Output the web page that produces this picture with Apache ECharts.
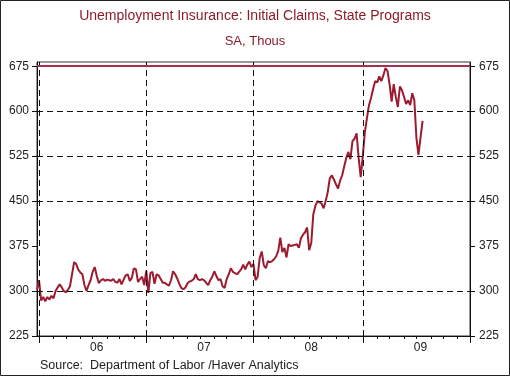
<!DOCTYPE html>
<html>
<head>
<meta charset="utf-8">
<script src="https://cdn.jsdelivr.net/npm/echarts@6/dist/echarts.min.js"></script>
<style>
  html, body { margin: 0; padding: 0; background: #fff; }
  #chart { width: 510px; height: 376px; }
</style>
</head>
<body>
<div id="chart"></div>
<script>
// weekly initial claims, SA, thous (week ending Saturday, from 2005-12-24)
const claims06 = [302, 318, 284, 290, 283, 290, 286, 292, 288, 300, 306, 311, 306, 300, 298, 302, 308, 328, 348, 345,
  336, 331, 328, 310, 300, 310, 318, 332, 340, 325, 313, 318, 320, 317, 319, 318, 317, 320, 315, 314,
  320, 311, 319, 326, 328, 317, 322, 338, 336, 315, 320, 324, 310]
const claims07 = [334, 297, 330, 332, 312, 328, 326, 320, 314, 314, 311, 309, 318, 333, 328, 321, 312, 305, 303, 306,
  313, 316, 317, 320, 328, 320, 318, 320, 318, 314, 310, 318, 324, 333, 325, 318, 320, 308, 305, 320,
  328, 338, 332, 330, 328, 332, 336, 344, 336, 344, 349, 340]
const claims08 = [345, 318, 324, 355, 366, 343, 338, 350, 348, 350, 353, 358, 367, 389, 365, 372, 356, 378, 375, 376,
  377, 378, 372, 388, 394, 398, 406, 368, 380, 428, 442, 450, 448, 446, 438, 450, 465, 488, 493, 486,
  478, 471, 484, 493, 508, 522, 532, 520, 550, 554, 563, 522, 490]
const claims09 = [525, 565, 588, 610, 622, 637, 650, 648, 658, 650, 660, 672, 667, 645, 616, 645, 624, 607, 641, 635,
  624, 612, 618, 610, 630, 618, 556, 527, 556, 584]
const claims = claims06.concat(claims07, claims08, claims09)

const firstWeek = Date.UTC(2005, 11, 24)
const weekCount = 211 // axis runs to the week ending 2010-01-02
const weeks = []
for (let i = 0; i < weekCount; i++) {
  weeks.push(new Date(firstWeek + i * 7 * 86400000).toISOString().slice(0, 10))
}

const yTicks = [225, 300, 375, 450, 525, 600, 675]
const gridLevels = [300, 450, 525, 600]
const capLevel = 675
const yearLabels = ['06', '07', '08', '09']

// week closest to each new year
const yearStarts = []
weeks.forEach((w, i) => {
  const m = +w.slice(5, 7), d = +w.slice(8, 10)
  if ((m === 12 && d >= 29) || (m === 1 && d <= 3)) yearStarts.push(i)
})
const labelIdx = {}
yearLabels.forEach((lab, k) => { labelIdx[yearStarts[k] + 28] = lab })
const minorIdx = new Set()
for (let k = 0; k < yearStarts.length - 1; k++) {
  const a = yearStarts[k], span = yearStarts[k + 1] - a
  for (let j = 1; j < 8; j++) minorIdx.add(a + Math.round(j * span / 8))
}
const majorIdx = new Set(yearStarts)

const font = "'Liberation Sans', Arial, sans-serif"
const dark = '#9c1b30'
const dash = { type: [6, 4], color: '#111', width: 1 }

const yAxisBase = {
  type: 'value',
  min: 225,
  max: 682,
  axisLine: { show: true, lineStyle: { color: '#111' } },
  axisTick: { show: true, length: 5, customValues: yTicks, lineStyle: { color: '#111' } },
  axisLabel: { customValues: yTicks, fontFamily: font, fontSize: 12, color: '#222', margin: 8 },
  splitLine: { show: false }
}

const chart = echarts.init(document.getElementById('chart'))
chart.setOption({
  animation: false,
  backgroundColor: '#fff',
  title: [
    { text: 'Unemployment Insurance: Initial Claims, State Programs', left: 'center', top: 4,
      textStyle: { fontFamily: font, fontSize: 14, fontWeight: 'normal', color: '#8c1c2c' } },
    { text: 'SA, Thous', left: 'center', top: 30,
      textStyle: { fontFamily: font, fontSize: 13, fontWeight: 'normal', color: '#8c1c2c' } }
  ],
  graphic: [
    { type: 'rect', shape: { x: 0.5, y: 0.5, width: 509, height: 375 }, style: { fill: 'none', stroke: '#222', lineWidth: 1 }, silent: true },
    { type: 'text', left: 40, top: 359, style: { text: 'Source:  Department of Labor /Haver Analytics', font: '12.5px ' + font, fill: '#222' } }
  ],
  grid: { left: 37, right: 40, top: 62, bottom: 40, show: true, borderColor: '#333', borderWidth: 1, backgroundColor: '#fff' },
  xAxis: [
    {
      type: 'category',
      data: weeks,
      boundaryGap: false,
      axisLine: { lineStyle: { color: '#111' } },
      axisTick: { length: 3, interval: (i) => minorIdx.has(i), lineStyle: { color: '#111' } },
      axisLabel: { interval: (i) => i in labelIdx, formatter: (v, i) => labelIdx[i] || '', fontFamily: font, fontSize: 12, color: '#222', margin: 6 },
      splitLine: { show: false }
    },
    {
      type: 'category',
      data: weeks,
      boundaryGap: false,
      position: 'bottom',
      axisLine: { show: false },
      axisTick: { length: 7, interval: (i) => majorIdx.has(i), lineStyle: { color: '#111' } },
      axisLabel: { show: false },
      splitLine: { show: false }
    }
  ],
  yAxis: [
    Object.assign({}, yAxisBase, { position: 'left' }),
    Object.assign({}, yAxisBase, { position: 'right', axisLabel: Object.assign({}, yAxisBase.axisLabel, { margin: 9 }) })
  ],
  series: [
    {
      type: 'line',
      data: [],
      silent: true,
      z: 1,
      markLine: {
        silent: true,
        symbol: 'none',
        label: { show: false },
        lineStyle: dash,
        data: gridLevels.map((v) => ({ yAxis: v }))
          .concat(yearStarts.slice(0, 4).map((i) => ({ xAxis: weeks[i] })))
          .concat([{ yAxis: capLevel, lineStyle: { type: 'solid', color: '#a3304f', width: 2 } }])
      }
    },
    {
      name: 'Initial Claims',
      type: 'line',
      data: claims,
      showSymbol: false,
      z: 3,
      lineStyle: { color: dark, width: 2 },
      itemStyle: { color: dark }
    }
  ]
})
</script>
</body>
</html>
